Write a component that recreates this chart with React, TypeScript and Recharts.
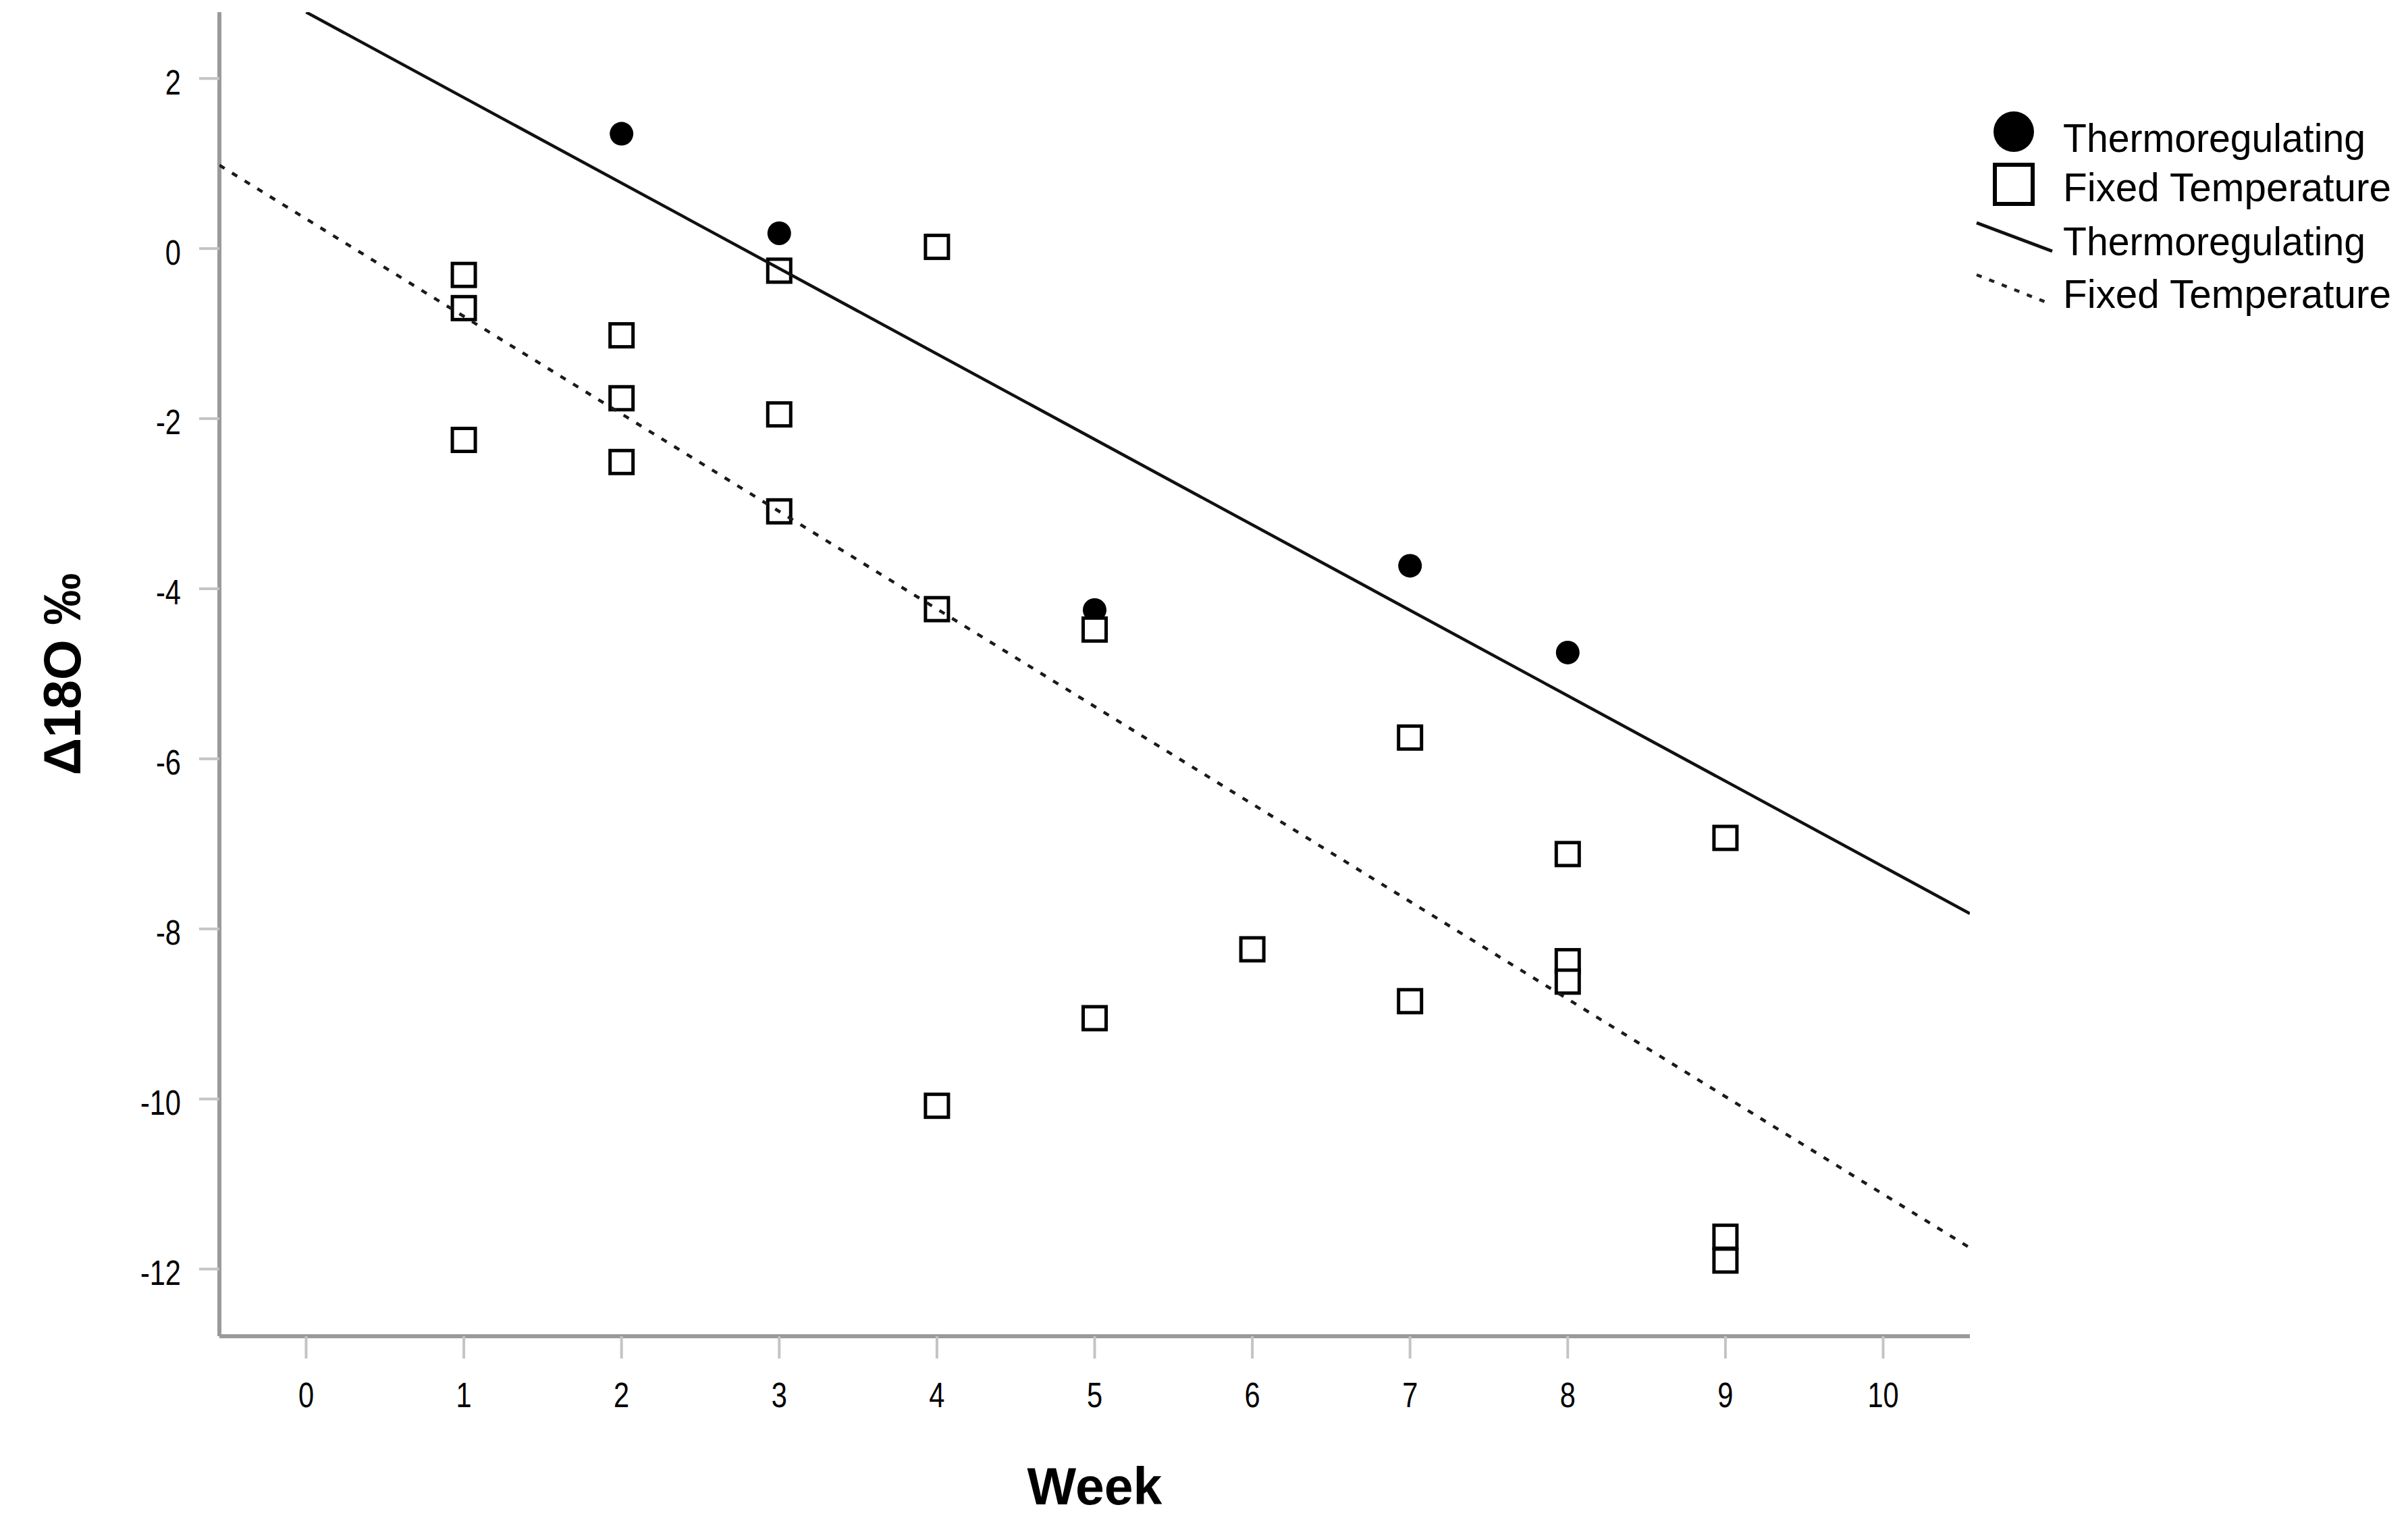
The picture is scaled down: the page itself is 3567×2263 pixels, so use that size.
import { Label, Legend, Scatter, ScatterChart, XAxis, YAxis } from 'recharts'

const thermoWeeks = [2, 3, 5, 7, 8]
const thermoValues = [1.35, 0.18, -4.25, -3.73, -4.75]

const fixedWeeks = [1, 1, 1, 2, 2, 2, 3, 3, 3, 4, 4, 4, 5, 5, 6, 7, 7, 8, 8, 8, 9, 9, 9]
const fixedValues = [
    -0.31, -0.7, -2.25, -1.02, -1.76, -2.51, -0.26, -1.95, -3.09, 0.02, -4.24, -10.08, -4.48,
    -9.05, -8.24, -5.75, -8.85, -7.12, -8.38, -8.62, -6.93, -11.62, -11.9,
]

// fitted lines, endpoints in data units
const thermoFitWeeks = [0, 10.55]
const thermoFitValues = [2.78, -7.82]
const fixedFitWeeks = [-0.55, 10.55]
const fixedFitValues = [0.98, -11.75]

const xTicks = [0, 1, 2, 3, 4, 5, 6, 7, 8, 9, 10]
const yTicks = [-12, -10, -8, -6, -4, -2, 0, 2]

const seriesNames = ['Thermoregulating', 'Fixed Temperature']

const toPoints = (weeks: number[], values: number[]) =>
    weeks.map((week, i) => ({ week, value: values[i] }))

const thermo = toPoints(thermoWeeks, thermoValues)
const fixed = toPoints(fixedWeeks, fixedValues)
const thermoFit = toPoints(thermoFitWeeks, thermoFitValues)
const fixedFit = toPoints(fixedFitWeeks, fixedFitValues)

const font = "'Liberation Sans', Arial, sans-serif"

const axisStroke = '#9a9a9a'
const tickStroke = '#c4c4c4'

// the original uses a condensed face; squeeze the regular one horizontally
const squeeze = 0.8

const Dot = (p: any) => <circle cx={p.cx} cy={p.cy} r={17.5} fill='#000' />
const Box = (p: any) => (
    <rect x={p.cx - 17} y={p.cy - 17} width={34} height={34} fill='#fff' stroke='#000' strokeWidth={5} />
)
const Nothing = () => <g />

const XTick = (p: any) => (
    <g transform={`translate(${p.x},${p.y}) scale(${squeeze},1)`}>
        <text x={0} y={0} dy='0.71em' textAnchor='middle' fontFamily={font} fontSize={52} fill='#000'>
            {p.payload.value}
        </text>
    </g>
)

const YTick = (p: any) => (
    <g transform={`translate(${p.x},${p.y}) scale(${squeeze},1)`}>
        <text x={0} y={0} dy='0.45em' textAnchor='end' fontFamily={font} fontSize={52} fill='#000'>
            {p.payload.value}
        </text>
    </g>
)

function LegendBox() {
    const textProps = { fontFamily: font, fontSize: 60, fill: '#000', lengthAdjust: 'spacingAndGlyphs' as const }
    return (
        <div style={{ position: 'relative', height: 0 }}>
            <svg width={667} height={340} style={{ position: 'absolute', left: 0, top: 0, display: 'block' }}>
                <circle cx={83} cy={55} r={30} fill='#000' />
                <text x={156} y={85} textLength={448} {...textProps}>{seriesNames[0]}</text>
                <rect x={55} y={104} width={56} height={58} fill='#fff' stroke='#000' strokeWidth={6} />
                <text x={156} y={158} textLength={486} {...textProps}>{seriesNames[1]}</text>
                <line x1={28} y1={190} x2={140} y2={232} stroke='#111' strokeWidth={5} />
                <text x={156} y={238} textLength={448} {...textProps}>{seriesNames[0]}</text>
                <line x1={28} y1={267} x2={137} y2={310} stroke='#222' strokeWidth={4.5} strokeDasharray='8 12' />
                <text x={156} y={316} textLength={486} {...textProps}>{seriesNames[1]}</text>
            </svg>
        </div>
    )
}

const YTitle = (props: any) => {
    const vb = props.viewBox
    const x = vb.x + 92
    const y = vb.y + vb.height / 2
    return (
        <text
            x={x}
            y={y}
            transform={`rotate(-90, ${x}, ${y})`}
            textAnchor='middle'
            dominantBaseline='central'
            fontFamily={font}
            fontWeight='bold'
            fontSize={77}
            fill='#000'
        >
            Δ18O ‰
        </text>
    )
}

export default function App() {
    return (
        <div style={{ position: 'absolute', left: 0, top: 0, background: '#fff' }}>
            <ScatterChart width={3567} height={2263} margin={{ top: 18, right: 649, bottom: 0, left: 0 }}>
                <XAxis
                    type='number'
                    dataKey='week'
                    domain={[-0.55, 10.55]}
                    allowDataOverflow
                    ticks={xTicks}
                    interval={0}
                    height={284}
                    stroke={axisStroke}
                    axisLine={{ stroke: axisStroke, strokeWidth: 6 }}
                    tickLine={{ stroke: tickStroke, strokeWidth: 4 }}
                    tickSize={33}
                    tickMargin={35}
                    tick={XTick}
                >
                    <Label
                        value='Week'
                        position='insideBottom'
                        offset={35}
                        fill='#000'
                        fontSize={77}
                        fontWeight='bold'
                        fontFamily={font}
                    />
                </XAxis>
                <YAxis
                    type='number'
                    dataKey='value'
                    domain={[-12.79, 2.78]}
                    allowDataOverflow
                    ticks={yTicks}
                    interval={0}
                    width={325}
                    stroke={axisStroke}
                    axisLine={{ stroke: axisStroke, strokeWidth: 6 }}
                    tickLine={{ stroke: tickStroke, strokeWidth: 4 }}
                    tickSize={30}
                    tickMargin={27}
                    tick={YTick}
                >
                    <Label content={YTitle} />
                </YAxis>
                <Scatter name={seriesNames[0]} data={thermo} shape={Dot} isAnimationActive={false} />
                <Scatter name={seriesNames[1]} data={fixed} shape={Box} isAnimationActive={false} />
                <Scatter
                    data={thermoFit}
                    shape={Nothing}
                    line={{ stroke: '#111', strokeWidth: 4.5 }}
                    isAnimationActive={false}
                />
                <Scatter
                    data={fixedFit}
                    shape={Nothing}
                    line={{ stroke: '#1a1a1a', strokeWidth: 4.5, strokeDasharray: '9 13' }}
                    isAnimationActive={false}
                />
                <Legend
                    content={() => <LegendBox />}
                    wrapperStyle={{ position: 'absolute', left: 2900, top: 140, width: 667, height: 0 }}
                />
            </ScatterChart>
        </div>
    )
}
